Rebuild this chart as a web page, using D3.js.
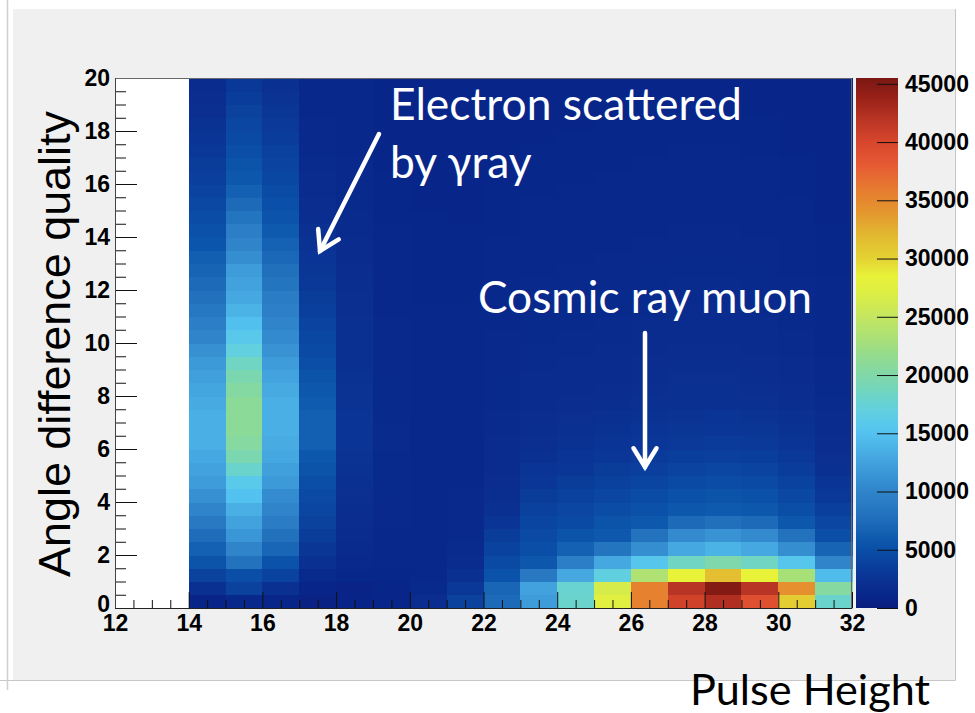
<!DOCTYPE html>
<html>
<head>
<meta charset="utf-8">
<script src="https://cdn.jsdelivr.net/npm/d3@7"></script>
<style>
  html, body { margin: 0; padding: 0; background: #ffffff; }
  svg { display: block; }
</style>
</head>
<body>
<svg id="chart" width="975" height="713"></svg>
<script>
// ---- Histogram content -------------------------------------------------
// Pulse-height bins: lower edges, each bin is 1 wide (14..32).
const pulseBins = [14, 15, 16, 17, 18, 19, 20, 21, 22, 23, 24, 25, 26, 27, 28, 29, 30, 31];
// Angle-difference-quality bins are 0.5 wide, 40 bins from 0 to 20.
// Each array below holds the counts of one pulse-height bin, from the bottom row up.
const col14 = [800, 2300, 3800, 5400, 6500, 7500, 8700, 10000, 11000, 12000,
               12500, 13000, 13500, 13500, 13500, 13200, 12800, 12300, 11800, 11000,
               10000, 9300, 8600, 7900, 7300, 6800, 6300, 5600, 5200, 4800,
               4400, 4000, 3600, 3300, 3000, 2700, 2400, 2100, 1900, 1700];
const col15 = [1200, 3800, 5000, 8000, 10000, 11500, 12500, 13500, 15000, 16000,
               18000, 19500, 20500, 21000, 21000, 21000, 20300, 19500, 18500, 17000,
               15800, 14800, 13800, 13000, 12500, 12000, 10800, 10000, 9300, 8300,
               7300, 6500, 5800, 5400, 5000, 4600, 4200, 3800, 3400, 3000];
const col16 = [1000, 2300, 3900, 5300, 7000, 7900, 9000, 10000, 10600, 11800,
               12300, 13000, 13300, 13500, 13500, 13500, 13200, 12600, 12000, 11200,
               10500, 10000, 9500, 9000, 8300, 7800, 7200, 6600, 6000, 5500,
               5100, 4700, 4300, 4000, 3700, 3400, 3100, 2800, 2500, 2200];
const col17 = [500, 900, 1500, 2200, 2800, 3300, 3800, 4200, 4600, 5000,
               5400, 5800, 6400, 6400, 6400, 6100, 5800, 5400, 5000, 4600,
               4300, 4000, 3600, 3300, 3000, 2800, 2600, 2400, 2200, 2000,
               1900, 1800, 1700, 1600, 1500, 1400, 1400, 1300, 1300, 1200];
const col18 = [800, 700, 1100, 1400, 1600, 1800, 1900, 2000, 2100, 2200,
               2400, 2500, 2600, 2600, 2600, 2500, 2500, 2400, 2300, 2300,
               2200, 2200, 2100, 2100, 2000, 1900, 1800, 1700, 1600, 1600,
               1500, 1500, 1400, 1400, 1300, 1300, 1300, 1200, 1200, 1200];
const col19 = [900, 1000, 1100, 1200, 1300, 1300, 1400, 1400, 1500, 1500,
               1500, 1500, 1600, 1600, 1500, 1500, 1500, 1500, 1400, 1400,
               1400, 1400, 1300, 1300, 1300, 1300, 1200, 1200, 1200, 1100,
               1100, 1100, 1100, 1000, 1000, 1000, 1000, 1000, 1000, 1000];
const col20 = [1900, 1500, 1300, 1300, 1200, 1200, 1300, 1300, 1300, 1300,
               1300, 1200, 1200, 1300, 1300, 1200, 1200, 1200, 1200, 1200,
               1200, 1200, 1200, 1100, 1100, 1100, 1100, 1100, 1100, 1100,
               1000, 1000, 1000, 1000, 1000, 1000, 1000, 1000, 1000, 1000];
const col21 = [3800, 3000, 2200, 1800, 1600, 1500, 1400, 1400, 1400, 1300,
               1300, 1300, 1300, 1300, 1300, 1300, 1300, 1200, 1200, 1200,
               1200, 1200, 1200, 1100, 1100, 1100, 1100, 1100, 1100, 1000,
               1000, 1000, 1000, 1000, 1000, 1000, 1000, 900, 900, 900];
const col22 = [7300, 7000, 5300, 4600, 3900, 3300, 2700, 2300, 2000, 1900,
               1800, 1700, 1700, 1600, 1600, 1500, 1500, 1500, 1400, 1400,
               1400, 1300, 1300, 1300, 1200, 1200, 1200, 1200, 1100, 1100,
               1100, 1100, 1000, 1000, 1000, 1000, 1000, 1000, 1000, 1000];
const col23 = [12000, 12500, 8700, 5800, 5000, 4600, 4100, 3700, 3300, 2900,
               2600, 2300, 2100, 2000, 1900, 1800, 1700, 1700, 1600, 1600,
               1500, 1500, 1400, 1400, 1400, 1300, 1300, 1300, 1200, 1200,
               1200, 1100, 1100, 1100, 1100, 1000, 1000, 1000, 1000, 1000];
const col24 = [18000, 17800, 13000, 9300, 6500, 5400, 4600, 4200, 3700, 3300,
               2900, 2600, 2400, 2200, 2100, 1900, 1800, 1700, 1700, 1600,
               1600, 1500, 1500, 1400, 1400, 1400, 1300, 1300, 1300, 1200,
               1200, 1200, 1100, 1100, 1100, 1100, 1000, 1000, 1000, 1000];
const col25 = [27500, 26500, 16800, 13000, 8300, 5900, 5400, 4800, 4200, 3700,
               3300, 2900, 2600, 2400, 2200, 2000, 1900, 1800, 1700, 1700,
               1600, 1600, 1500, 1500, 1400, 1400, 1400, 1300, 1300, 1300,
               1200, 1200, 1200, 1100, 1100, 1100, 1100, 1000, 1000, 1000];
const col26 = [35500, 35500, 23500, 15500, 10800, 8000, 5900, 5200, 4700, 4100,
               3600, 3200, 2900, 2600, 2400, 2200, 2100, 2000, 1900, 1800,
               1700, 1700, 1600, 1600, 1500, 1500, 1400, 1400, 1300, 1300,
               1300, 1200, 1200, 1200, 1100, 1100, 1100, 1100, 1000, 1000];
const col27 = [40500, 42000, 28500, 18500, 13000, 10500, 7300, 5800, 5200, 4600,
               4000, 3500, 3100, 2800, 2500, 2300, 2200, 2100, 2000, 1900,
               1800, 1700, 1700, 1600, 1600, 1500, 1500, 1400, 1400, 1300,
               1300, 1300, 1200, 1200, 1200, 1100, 1100, 1100, 1000, 1000];
const col28 = [42500, 45000, 31500, 19800, 13800, 11200, 7800, 6000, 5400, 4800,
               4200, 3600, 3200, 2900, 2600, 2300, 2200, 2100, 2000, 1900,
               1800, 1700, 1700, 1600, 1600, 1500, 1500, 1400, 1400, 1300,
               1300, 1300, 1200, 1200, 1200, 1100, 1100, 1100, 1000, 1000];
const col29 = [39000, 42000, 28500, 18500, 13000, 10500, 7300, 5800, 5200, 4600,
               4000, 3500, 3100, 2800, 2500, 2200, 2100, 2000, 1900, 1800,
               1700, 1700, 1600, 1600, 1500, 1500, 1400, 1400, 1300, 1300,
               1300, 1200, 1200, 1200, 1100, 1100, 1100, 1000, 1000, 1000];
const col30 = [30500, 34500, 23000, 15500, 10800, 8000, 5800, 5000, 4400, 3900,
               3400, 3000, 2700, 2400, 2200, 2000, 1900, 1800, 1700, 1600,
               1600, 1500, 1500, 1400, 1400, 1300, 1300, 1300, 1200, 1200,
               1200, 1100, 1100, 1100, 1000, 1000, 1000, 1000, 1000, 1000];
const col31 = [18000, 20500, 14500, 10000, 6800, 5000, 4200, 3600, 3000, 2600,
               2300, 2100, 1900, 1800, 1700, 1600, 1500, 1400, 1400, 1300,
               1300, 1300, 1200, 1200, 1200, 1100, 1100, 1100, 1100, 1000,
               1000, 1000, 1000, 1000, 900, 900, 900, 900, 900, 900];
const columns = [col14, col15, col16, col17, col18, col19, col20, col21, col22,
                 col23, col24, col25, col26, col27, col28, col29, col30, col31];
const angleBinWidth = 0.5;

// Axis ticks
const xMajorTicks = [12, 14, 16, 18, 20, 22, 24, 26, 28, 30, 32];
const yMajorTicks = [0, 2, 4, 6, 8, 10, 12, 14, 16, 18, 20];
const zTicks = [0, 5000, 10000, 15000, 20000, 25000, 30000, 35000, 40000, 45000];

// Colour palette (count -> colour)
const paletteValues = [0, 1000, 2000, 3000, 4000, 5000, 6000, 7000, 8000, 9000,
                       10000, 11000, 12000, 13000, 14000, 15000, 16000, 17000, 18000, 19000,
                       20000, 21000, 22000, 23000, 25000, 27000, 28500, 30000, 32000, 34000,
                       36000, 38000, 40000, 42000, 44000, 45500];
const paletteColors = ["#0a1e7e", "#08268a", "#0a2e90", "#0a3898", "#0a44a0", "#0a4ea8", "#0e5aae", "#1a66b6", "#2272be", "#2a7cc4",
                       "#3084ca", "#3690d2", "#3e9cda", "#46a8e0", "#4cb6e8", "#54c2f0", "#5acaea", "#62d0de", "#6ad4cc", "#76d6b8",
                       "#80d8a8", "#8cda98", "#98dc88", "#a8e078", "#c4e660", "#dcee44", "#e8f238", "#e4d234", "#e2b830", "#e4962e",
                       "#e67a30", "#e65a34", "#d8462c", "#b83424", "#961f18", "#7a1712"];

// Annotations
const titleX = "Pulse Height";
const titleY = "Angle difference quality";
const noteElectron = ["Electron scattered", "by \u03b3ray"];
const noteMuon = "Cosmic ray muon";

// ---- Layout ------------------------------------------------------------
const frame = { left: 115, right: 852, top: 78, bottom: 608 };
const bar = { left: 856, right: 898 };
const zMax = 45500;

const svg = d3.select("#chart");

// Slide / canvas backgrounds
svg.append("rect").attr("x", 0).attr("y", 0).attr("width", 975).attr("height", 713).attr("fill", "#ffffff");
svg.append("rect").attr("x", 13).attr("y", 9).attr("width", 942).attr("height", 671)
  .attr("fill", "#f0f0f0");
svg.append("path").attr("d", "M955.5,9 V680.5 H0")
  .attr("fill", "none").attr("stroke", "#c6c6c6").attr("stroke-width", 1);
svg.append("line").attr("x1", 7.5).attr("x2", 7.5).attr("y1", 0).attr("y2", 690)
  .attr("stroke", "#cfcfcf").attr("stroke-width", 1.5);

const x = d3.scaleLinear().domain([12, 32]).range([frame.left, frame.right]);
const y = d3.scaleLinear().domain([0, 20]).range([frame.bottom, frame.top]);
const z = d3.scaleLinear().domain([0, zMax]).range([frame.bottom, frame.top]);
const color = d3.scaleLinear().domain(paletteValues).range(paletteColors)
  .interpolate(d3.interpolateRgb).clamp(true);

// Frame fill
svg.append("rect")
  .attr("x", frame.left).attr("y", frame.top)
  .attr("width", frame.right - frame.left).attr("height", frame.bottom - frame.top)
  .attr("fill", "#ffffff");

// Cells
const cells = [];
columns.forEach((col, i) => {
  col.forEach((v, j) => {
    cells.push({ x0: pulseBins[i], x1: pulseBins[i] + 1, y0: j * angleBinWidth, y1: (j + 1) * angleBinWidth, v });
  });
});
svg.append("g").attr("shape-rendering", "crispEdges")
  .selectAll("rect").data(cells).join("rect")
  .attr("x", d => x(d.x0))
  .attr("y", d => y(d.y1))
  .attr("width", d => x(d.x1) - x(d.x0) + 0.5)
  .attr("height", d => y(d.y0) - y(d.y1) + 0.5)
  .attr("fill", d => color(d.v));

// Axes
const labelFont = "'Liberation Sans', Arial, Helvetica, sans-serif";
function styleAxis(g) {
  g.select(".domain").remove();
  g.selectAll(".tick line").attr("stroke", "#111").attr("stroke-width", 1);
  g.selectAll(".tick text").attr("fill", "#000").attr("font-family", labelFont)
    .attr("font-weight", "bold").attr("font-size", 23);
}
const xMinor = d3.range(12, 32.01, 0.5).filter(v => v % 2 !== 0);
const yMinor = d3.range(0, 20.01, 0.5).filter(v => v % 2 !== 0);

svg.append("g").attr("transform", `translate(0,${frame.bottom})`)
  .call(d3.axisBottom(x).tickValues(xMinor).tickSize(-8).tickFormat(""))
  .call(styleAxis);
svg.append("g").attr("transform", `translate(0,${frame.bottom})`)
  .call(d3.axisBottom(x).tickValues(xMajorTicks).tickSize(-16).tickPadding(7).tickFormat(d3.format("d")))
  .call(styleAxis);
svg.append("g").attr("transform", `translate(${frame.left},0)`)
  .call(d3.axisLeft(y).tickValues(yMinor).tickSize(-11).tickFormat(""))
  .call(styleAxis);
const yAxisG = svg.append("g").attr("transform", `translate(${frame.left},0)`)
  .call(d3.axisLeft(y).tickValues(yMajorTicks).tickSize(-22).tickPadding(5).tickFormat(d3.format("d")))
  .call(styleAxis);
// lift the origin label a little so it clears the x-axis "12"
yAxisG.selectAll(".tick").filter(d => d === 0).select("text").attr("y", -4);

// Frame outline
svg.append("rect")
  .attr("x", frame.left + 0.5).attr("y", frame.top + 0.5)
  .attr("width", frame.right - frame.left - 1).attr("height", frame.bottom - frame.top)
  .attr("fill", "none").attr("stroke", "#6a6a6a").attr("stroke-width", 1);
svg.append("line").attr("x1", frame.left).attr("x2", frame.right)
  .attr("y1", frame.bottom + 0.5).attr("y2", frame.bottom + 0.5).attr("stroke", "#222");
svg.append("line").attr("x1", frame.left + 0.5).attr("x2", frame.left + 0.5)
  .attr("y1", frame.top).attr("y2", frame.bottom).attr("stroke", "#444");

// Colour bar
const defs = svg.append("defs");
const grad = defs.append("linearGradient").attr("id", "zgrad")
  .attr("x1", 0).attr("y1", 1).attr("x2", 0).attr("y2", 0);
paletteValues.forEach((v, i) => {
  grad.append("stop").attr("offset", v / zMax).attr("stop-color", paletteColors[i]);
});
svg.append("rect").attr("x", bar.left).attr("y", z(zMax))
  .attr("width", bar.right - bar.left).attr("height", z(0) - z(zMax))
  .attr("fill", "url(#zgrad)");
svg.append("g").attr("transform", `translate(${bar.right},0)`)
  .call(d3.axisRight(z).tickValues(zTicks).tickSize(-21).tickPadding(7).tickFormat(d3.format("d")))
  .call(styleAxis);

// Axis titles
function fitText(sel, width) {
  const base = +sel.attr("font-size");
  const w = sel.node().getComputedTextLength();
  sel.attr("font-size", base * width / w);
}
const slideFont = "Lato, 'Open Sans', sans-serif";

const yTitle = svg.append("text")
  .attr("transform", "translate(70,344) rotate(-90)")
  .attr("text-anchor", "middle")
  .attr("font-family", labelFont).attr("font-size", 42).attr("fill", "#000")
  .text(titleY);
fitText(yTitle, 466);

const xTitle = svg.append("text")
  .attr("x", 690).attr("y", 705)
  .attr("font-family", slideFont).attr("font-size", 44).attr("fill", "#000")
  .text(titleX);
fitText(xTitle, 240);

// Annotations
const n1 = svg.append("text").attr("x", 390).attr("y", 120)
  .attr("font-family", slideFont).attr("font-size", 42).attr("fill", "#fff").text(noteElectron[0]);
fitText(n1, 352);
const n2 = svg.append("text").attr("x", 390).attr("y", 178)
  .attr("font-family", slideFont).attr("font-size", +n1.attr("font-size")).attr("fill", "#fff").text(noteElectron[1]);
const n3 = svg.append("text").attr("x", 478).attr("y", 313)
  .attr("font-family", slideFont).attr("font-size", 42).attr("fill", "#fff").text(noteMuon);
fitText(n3, 334);

function arrow(x0, y0, x1, y1) {
  const ang = Math.atan2(y1 - y0, x1 - x0);
  const len = 22, spread = 0.55;
  const a1 = [x1 - len * Math.cos(ang - spread), y1 - len * Math.sin(ang - spread)];
  const a2 = [x1 - len * Math.cos(ang + spread), y1 - len * Math.sin(ang + spread)];
  svg.append("line").attr("x1", x0).attr("y1", y0).attr("x2", x1).attr("y2", y1)
    .attr("stroke", "#fff").attr("stroke-width", 4.5).attr("stroke-linecap", "round");
  svg.append("path").attr("d", `M${a1[0]},${a1[1]} L${x1},${y1} L${a2[0]},${a2[1]}`)
    .attr("fill", "none").attr("stroke", "#fff").attr("stroke-width", 4.5)
    .attr("stroke-linejoin", "miter").attr("stroke-linecap", "round");
}
arrow(379, 134, 320, 251);
arrow(645, 333, 645, 467);
</script>
</body>
</html>
